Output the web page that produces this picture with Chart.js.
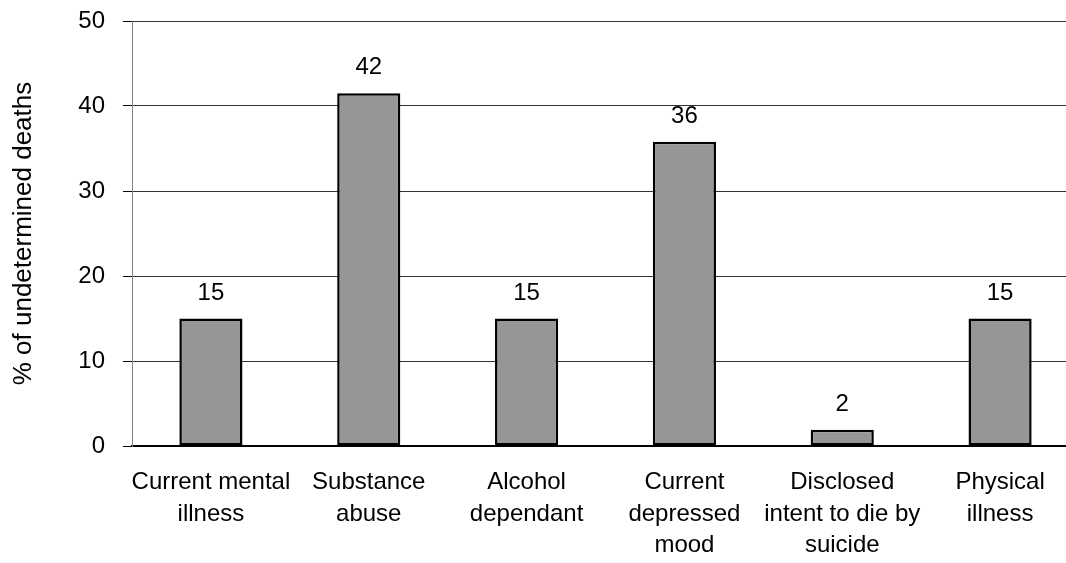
<!DOCTYPE html>
<html>
<head>
<meta charset="utf-8">
<script src="https://cdn.jsdelivr.net/npm/chart.js@4"></script>
<style>
  html, body { margin: 0; padding: 0; background: #fff; overflow: hidden; }
  #wrap { width: 1079px; height: 563px; }
</style>
</head>
<body>
<div id="wrap"><canvas id="chart" width="1079" height="563"></canvas></div>
<script>
// data
const categories = [
    ['Current mental', 'illness'],
    ['Substance', 'abuse'],
    ['Alcohol', 'dependant'],
    ['Current', 'depressed', 'mood'],
    ['Disclosed', 'intent to die by', 'suicide'],
    ['Physical', 'illness']
];
const percentUndetermined = [15, 41.5, 15, 35.8, 1.9, 15];
const yTicks = [0, 10, 20, 30, 40, 50];

const FONT = "'Liberation Sans', Arial, sans-serif";

// value labels over the bars
const barValueLabels = {
    id: 'barValueLabels',
    afterDatasetsDraw(chart) {
        const ctx = chart.ctx;
        const meta = chart.getDatasetMeta(0);
        ctx.save();
        ctx.font = '24px ' + FONT;
        ctx.fillStyle = '#000';
        ctx.textAlign = 'center';
        ctx.textBaseline = 'alphabetic';
        meta.data.forEach((bar, i) => {
            ctx.fillText(Math.round(percentUndetermined[i]), bar.x, bar.y - 19);
        });
        ctx.restore();
    }
};

const ctx = document.getElementById('chart').getContext('2d');
new Chart(ctx, {
    type: 'bar',
    data: {
        labels: categories,
        datasets: [{
            data: percentUndetermined,
            backgroundColor: '#969696',
            borderColor: '#000',
            borderWidth: 2.5,
            borderSkipped: false,
            barPercentage: 0.4,
            categoryPercentage: 1
        }]
    },
    options: {
        responsive: false,
        animation: false,
        layout: { padding: { top: 21, right: 0, bottom: 0, left: 0 } },
        plugins: {
            legend: { display: false },
            tooltip: { enabled: false }
        },
        scales: {
            x: {
                grid: { display: false, drawTicks: false },
                border: { display: true, color: '#000', width: 2 },
                ticks: {
                    color: '#000',
                    padding: 20,
                    maxRotation: 0,
                    autoSkip: false,
                    font: { family: FONT, size: 24, lineHeight: 1.33 }
                },
                afterFit(scale) {
                    scale.height = 117;
                    scale.paddingLeft = 0;
                    scale.paddingRight = 0;
                }
            },
            y: {
                min: 0,
                max: 50,
                afterBuildTicks(scale) {
                    scale.ticks = yTicks.map(v => ({ value: v }));
                },
                grid: {
                    color: '#333',
                    lineWidth: 1,
                    borderDash: [2, 1],
                    tickLength: 9,
                    tickColor: '#000',
                    tickBorderDash: []
                },
                border: { display: true, color: '#808080', width: 1 },
                ticks: {
                    color: '#000',
                    padding: 18,
                    font: { family: FONT, size: 24 }
                },
                title: {
                    display: true,
                    text: '% of undetermined deaths',
                    color: '#000',
                    padding: { top: 8, bottom: 0 },
                    font: { family: FONT, size: 26, lineHeight: 1.2 }
                },
                afterFit(scale) {
                    scale.width = 132;
                    scale.paddingTop = 0;
                    scale.paddingBottom = 0;
                }
            }
        }
    },
    plugins: [barValueLabels]
});
</script>
</body>
</html>
